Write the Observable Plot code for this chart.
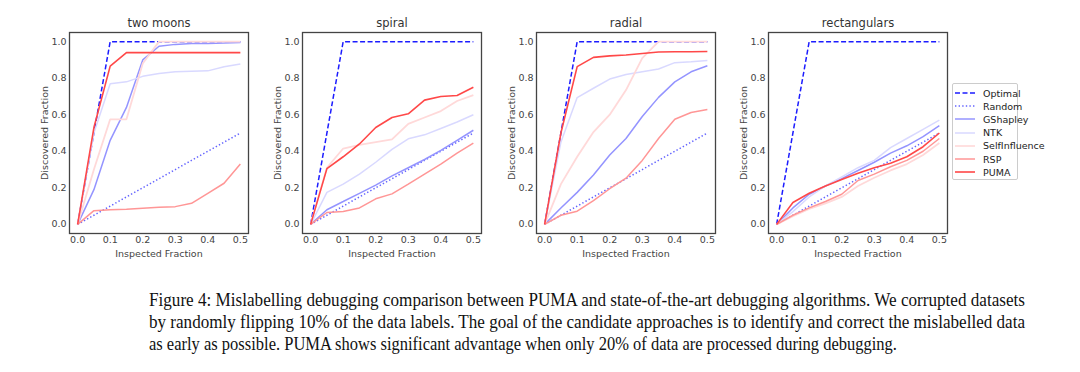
<!DOCTYPE html>
<html>
<head>
<meta charset="utf-8">
<script src="https://cdn.jsdelivr.net/npm/d3@7"></script>
<script src="https://cdn.jsdelivr.net/npm/@observablehq/plot@0.6"></script>
<style>
  html, body { margin: 0; padding: 0; background: #fff; }
  #wrap { position: relative; width: 1080px; height: 372px; overflow: hidden; font-family: "DejaVu Sans", sans-serif; }
  .panel { position: absolute; top: 0; }
  #legend { position: absolute; left: 952px; top: 83px; width: 66px; height: 97px; border: 1px solid #ccc; border-radius: 2px; background: #fff; font-size: 9.5px; color: #222; box-sizing: border-box; }
  .li { position: absolute; left: 2px; height: 12px; display: flex; align-items: center; white-space: nowrap; }
  .li svg { margin-right: 8px; }
  #caption { position: absolute; left: 149px; top: 289px; width: 876px; font-family: "Liberation Serif", "Times New Roman", serif; font-size: 18.5px; color: #111; line-height: 22px; }
  #caption span { display: inline-block; white-space: nowrap; transform-origin: 0 50%; }
  #caption div { height: 22px; white-space: nowrap; }
</style>
</head>
<body>
<div id="wrap">
  <div id="legend"></div>
  <div id="caption">
    <div><span data-w="876">Figure 4: Mislabelling debugging comparison between PUMA and state-of-the-art debugging algorithms. We corrupted datasets</span></div>
    <div><span data-w="876">by randomly flipping 10% of the data labels. The goal of the candidate approaches is to identify and correct the mislabelled data</span></div>
    <div><span data-w="748">as early as possible. PUMA shows significant advantage when only 20% of data are processed during debugging.</span></div>
  </div>
</div>
<script>
// ---------- data ----------
const inspected = [0, 0.05, 0.1, 0.15, 0.2, 0.25, 0.3, 0.35, 0.4, 0.45, 0.5];
const datasets = ["two moons", "spiral", "radial", "rectangulars"];
const methods = ["Optimal", "Random", "GShapley", "NTK", "SelfInfluence", "RSP", "PUMA"];

const optimal = [0, 0.5, 1, 1, 1, 1, 1, 1, 1, 1, 1];
const random  = [0, 0.05, 0.1, 0.15, 0.2, 0.25, 0.3, 0.35, 0.4, 0.45, 0.5];

const twoMoonsGShapley      = [0, 0.19, 0.46, 0.64, 0.90, 0.975, 0.985, 0.99, 0.99, 0.993, 0.995];
const twoMoonsNTK           = [0, 0.50, 0.77, 0.78, 0.81, 0.826, 0.835, 0.838, 0.84, 0.862, 0.877];
const twoMoonsSelfInfluence = [0, 0.30, 0.575, 0.575, 0.88, 1.0, 1.0, 1.0, 1.0, 1.0, 1.0];
const twoMoonsRSP           = [0, 0.075, 0.08, 0.083, 0.088, 0.093, 0.097, 0.115, 0.17, 0.225, 0.33];
const twoMoonsPUMA          = [0, 0.53, 0.866, 0.94, 0.94, 0.94, 0.94, 0.94, 0.94, 0.94, 0.94];

const spiralGShapley      = [0, 0.08, 0.125, 0.17, 0.215, 0.265, 0.31, 0.355, 0.405, 0.46, 0.515];
const spiralNTK           = [0, 0.175, 0.22, 0.275, 0.34, 0.41, 0.468, 0.49, 0.525, 0.56, 0.60];
const spiralSelfInfluence = [0, 0.31, 0.415, 0.435, 0.45, 0.465, 0.55, 0.585, 0.62, 0.675, 0.707];
const spiralRSP           = [0, 0.065, 0.07, 0.09, 0.14, 0.167, 0.22, 0.275, 0.33, 0.39, 0.445];
const spiralPUMA          = [0, 0.305, 0.37, 0.44, 0.53, 0.585, 0.605, 0.68, 0.70, 0.705, 0.75];

const radialGShapley      = [0, 0.09, 0.175, 0.27, 0.38, 0.47, 0.59, 0.695, 0.78, 0.835, 0.868];
const radialNTK           = [0, 0.45, 0.694, 0.745, 0.795, 0.82, 0.835, 0.85, 0.885, 0.89, 0.897];
const radialSelfInfluence = [0, 0.22, 0.37, 0.505, 0.60, 0.735, 0.91, 1.0, 1.0, 1.0, 1.0];
const radialRSP           = [0, 0.05, 0.072, 0.13, 0.195, 0.253, 0.35, 0.47, 0.575, 0.612, 0.628];
const radialPUMA          = [0, 0.50, 0.863, 0.914, 0.922, 0.927, 0.935, 0.943, 0.945, 0.945, 0.946];

const rectGShapley      = [0, 0.09, 0.165, 0.21, 0.25, 0.295, 0.34, 0.39, 0.43, 0.48, 0.54];
const rectNTK           = [0, 0.07, 0.15, 0.21, 0.26, 0.31, 0.35, 0.42, 0.47, 0.52, 0.57];
const rectSelfInfluence = [0, 0.045, 0.085, 0.115, 0.15, 0.21, 0.255, 0.295, 0.33, 0.38, 0.445];
const rectRSP           = [0, 0.05, 0.09, 0.125, 0.165, 0.24, 0.275, 0.315, 0.35, 0.40, 0.47];
const rectPUMA          = [0, 0.12, 0.17, 0.21, 0.245, 0.28, 0.31, 0.335, 0.37, 0.425, 0.50];

const xTicks = [0, 0.1, 0.2, 0.3, 0.4, 0.5];
const yTicks = [0, 0.2, 0.4, 0.6, 0.8, 1.0];

// ---------- styles ----------
const styles = {
  Optimal:       {stroke: "#1c1cff", dash: "5,2.5", width: 1.5},
  Random:        {stroke: "#6464ff", dash: "1.4,2.2", width: 1.5},
  GShapley:      {stroke: "#9494ff", dash: null, width: 1.5},
  NTK:           {stroke: "#d9d9ff", dash: null, width: 1.5},
  SelfInfluence: {stroke: "#ffd9d9", dash: null, width: 1.8},
  RSP:           {stroke: "#ff9696", dash: null, width: 1.5},
  PUMA:          {stroke: "#ff4848", dash: null, width: 1.6}
};

const seriesByDataset = {
  "two moons":    [optimal, random, twoMoonsGShapley, twoMoonsNTK, twoMoonsSelfInfluence, twoMoonsRSP, twoMoonsPUMA],
  "spiral":       [optimal, random, spiralGShapley, spiralNTK, spiralSelfInfluence, spiralRSP, spiralPUMA],
  "radial":       [optimal, random, radialGShapley, radialNTK, radialSelfInfluence, radialRSP, radialPUMA],
  "rectangulars": [optimal, random, rectGShapley, rectNTK, rectSelfInfluence, rectRSP, rectPUMA]
};

const panelLeft = [0, 233, 467, 699];
const wrap = document.getElementById("wrap");

datasets.forEach((name, i) => {
  const arrs = seriesByDataset[name];
  const lineMarks = methods.map((m, k) => {
    const rows = inspected.map((x, j) => ({x, y: arrs[k][j]}));
    const s = styles[m];
    return Plot.line(rows, {x: "x", y: "y", stroke: s.stroke, strokeWidth: s.width, strokeDasharray: s.dash, strokeLinejoin: "miter", strokeLinecap: "butt"});
  });
  const chart = Plot.plot({
    width: 250,
    height: 262,
    marginLeft: 69,
    marginRight: 2,
    marginTop: 32,
    marginBottom: 29,
    style: {fontFamily: "DejaVu Sans, sans-serif", fontSize: "9.5px", color: "#444", background: "transparent", overflow: "visible"},
    x: {domain: [-0.025, 0.525]},
    y: {domain: [-0.05, 1.05]},
    marks: [
      ...lineMarks,
      Plot.frame({stroke: "#444", strokeWidth: 1.3}),
      Plot.axisX({ticks: xTicks, tickFormat: d3.format(".1f"), tickSize: 0, tickPadding: 3, label: "Inspected Fraction", labelAnchor: "center", labelArrow: "none", labelOffset: 23, fill: "#444"}),
      Plot.axisY({ticks: yTicks, tickFormat: d3.format(".1f"), tickSize: 0, tickPadding: 3, label: "Discovered Fraction", labelAnchor: "center", labelArrow: "none", labelOffset: 28, fill: "#444"}),
      Plot.text([name], {frameAnchor: "top", dy: -9, text: d => d, fontSize: 11.5, fill: "#333", lineAnchor: "middle"})
    ]
  });
  chart.classList.add("panel");
  chart.style.left = panelLeft[i] + "px";
  wrap.appendChild(chart);
});

// ---------- legend ----------
const legend = document.getElementById("legend");
methods.forEach((m, k) => {
  const s = styles[m];
  const item = document.createElement("div");
  item.className = "li";
  item.style.top = (3 + k * 13.2) + "px";
  item.innerHTML = `<svg width="20" height="6"><line x1="0" y1="3" x2="20" y2="3" stroke="${s.stroke}" stroke-width="${Math.min(s.width, 1.6)}" ${s.dash ? `stroke-dasharray="${s.dash}"` : ""}/></svg><span>${m}</span>`;
  legend.appendChild(item);
});
wrap.appendChild(legend);

// ---------- caption fit ----------
document.querySelectorAll("#caption span").forEach(sp => {
  const target = +sp.dataset.w;
  const w = sp.getBoundingClientRect().width;
  if (w > 0) sp.style.transform = `scaleX(${target / w})`;
});
</script>
</body>
</html>
